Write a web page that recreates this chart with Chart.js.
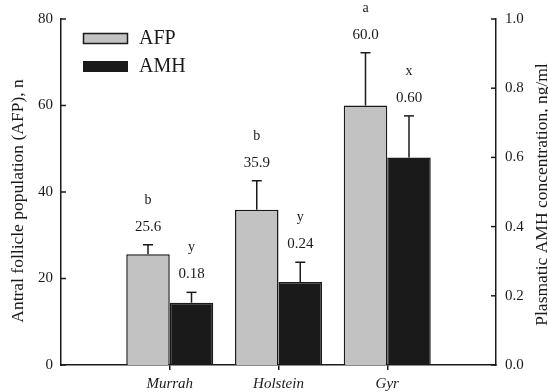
<!DOCTYPE html>
<html><head><meta charset="utf-8">
<script src="https://cdn.jsdelivr.net/npm/chart.js@4.4.1/dist/chart.umd.min.js"></script>
<style>html,body{margin:0;padding:0;background:#fff}#wrap{width:548px;height:392px;position:relative}canvas{display:block}</style>
</head><body><div id="wrap"><canvas id="c" width="548" height="392"></canvas></div>
<script>
const categories = ['Murrah', 'Holstein', 'Gyr'];
const afpMeans = [25.6, 35.9, 60.0];
const afpSem = [2.2, 6.7, 12.2];
const afpLetters = ['b', 'b', 'a'];
const amhMeans = [0.18, 0.24, 0.60];
const amhSem = [0.03, 0.057, 0.12];
const amhLetters = ['y', 'y', 'x'];
const afpTicks = [0, 20, 40, 60, 80];
const amhTicks = [0, 0.2, 0.4, 0.6, 0.8, 1.0];

const SERIF = 'Liberation Serif';
const INK = '#1a1a1a';

const labels = ['', ...categories, ''];
const pad = arr => [null, ...arr, null];

const extras = {
  id: 'extras',
  afterDatasetsDraw(chart) {
    const ctx = chart.ctx;
    const yA = chart.scales.y, yB = chart.scales.y1;
    ctx.save();
    ctx.strokeStyle = INK; ctx.lineWidth = 1.5;
    // inward ticks
    afpTicks.forEach(v => { const p = yA.getPixelForValue(v); ctx.beginPath(); ctx.moveTo(yA.right, p); ctx.lineTo(yA.right + 5, p); ctx.stroke(); });
    amhTicks.forEach(v => { const p = yB.getPixelForValue(v); ctx.beginPath(); ctx.moveTo(yB.left - 5, p); ctx.lineTo(yB.left, p); ctx.stroke(); });
    // error bars and annotations
    const sets = [
      {means: afpMeans, sem: afpSem, letters: afpLetters, scale: yA, fmt: v => v.toFixed(1)},
      {means: amhMeans, sem: amhSem, letters: amhLetters, scale: yB, fmt: v => v.toFixed(2)}
    ];
    sets.forEach((s, di) => {
      const meta = chart.getDatasetMeta(di);
      s.means.forEach((m, i) => {
        const el = meta.data[i + 1];
        const x = el.x;
        const cap = s.scale.getPixelForValue(m + s.sem[i]);
        ctx.beginPath(); ctx.moveTo(x, el.y); ctx.lineTo(x, cap); ctx.stroke();
        ctx.beginPath(); ctx.moveTo(x - 5, cap); ctx.lineTo(x + 5, cap); ctx.stroke();
        ctx.fillStyle = INK; ctx.textAlign = 'center'; ctx.textBaseline = 'alphabetic';
        ctx.font = '15px "' + SERIF + '"';
        const nb = cap - 14;
        ctx.fillText(s.fmt(m), x, nb);
        ctx.font = '14px "' + SERIF + '"';
        ctx.fillText(s.letters[i], x, nb - 27);
      });
    });
    // legend
    const ds = chart.data.datasets;
    ctx.textAlign = 'left'; ctx.textBaseline = 'alphabetic';
    ctx.font = '20px "' + SERIF + '"';
    ctx.fillStyle = ds[0].backgroundColor; ctx.fillRect(83.5, 33.5, 44, 10);
    ctx.strokeRect(83.5, 33.5, 44, 10);
    ctx.fillStyle = ds[1].backgroundColor; ctx.fillRect(83, 61, 45, 11);
    ctx.fillStyle = INK;
    ctx.fillText(ds[0].label, 139, 43.5);
    ctx.fillText(ds[1].label, 139, 71.5);
    // axis titles
    ctx.font = '17.5px "' + SERIF + '"';
    ctx.textAlign = 'center';
    ctx.save(); ctx.translate(23.3, 201); ctx.rotate(-Math.PI / 2);
    ctx.fillText('Antral follicle population (AFP), n', 0, 0); ctx.restore();
    ctx.save(); ctx.translate(547, 194.5); ctx.rotate(-Math.PI / 2);
    ctx.fillText('Plasmatic AMH concentration, ng/ml', 0, 0); ctx.restore();
    ctx.restore();
  }
};

new Chart(document.getElementById('c'), {
  type: 'bar',
  data: {
    labels: labels,
    datasets: [
      {label: 'AFP', data: pad(afpMeans), backgroundColor: '#c2c2c2', borderColor: INK, borderWidth: 1.5, yAxisID: 'y'},
      {label: 'AMH', data: pad(amhMeans), backgroundColor: '#1a1a1a', borderColor: INK, borderWidth: 1.5, yAxisID: 'y1'}
    ]
  },
  options: {
    responsive: false, animation: false, devicePixelRatio: 1,
    layout: {padding: {top: 19, left: 0, right: 0, bottom: 0}},
    datasets: {bar: {categoryPercentage: 0.8, barPercentage: 1.0}},
    plugins: {legend: {display: false}, tooltip: {enabled: false}},
    scales: {
      x: {
        type: 'category', offset: false,
        grid: {display: true, offset: false, drawOnChartArea: false, drawTicks: true, tickLength: 5, lineWidth: 1.5,
          color: c => (c.index >= 1 && c.index <= categories.length) ? INK : 'rgba(0,0,0,0)'},
        border: {display: true, color: INK, width: 1.5},
        ticks: {font: {family: SERIF, size: 15, style: 'italic'}, color: INK, padding: 5, autoSkip: false, maxRotation: 0},
        afterFit: s => { s.height = 27; }
      },
      y: {
        position: 'left', min: 0, max: 80,
        afterBuildTicks: s => { s.ticks = afpTicks.map(v => ({value: v})); },
        grid: {display: false, drawTicks: false},
        border: {display: true, color: INK, width: 1.5},
        ticks: {padding: 8, font: {family: SERIF, size: 15}, color: INK, callback: v => String(v)},
        afterFit: s => { s.width = 61; }
      },
      y1: {
        position: 'right', min: 0, max: 1,
        afterBuildTicks: s => { s.ticks = amhTicks.map(v => ({value: v})); },
        grid: {display: false, drawTicks: false},
        border: {display: true, color: INK, width: 1.5},
        ticks: {padding: 9, font: {family: SERIF, size: 15}, color: INK, callback: v => Number(v).toFixed(1)},
        afterFit: s => { s.width = 52; }
      }
    }
  },
  plugins: [extras]
});
</script>
</body></html>
